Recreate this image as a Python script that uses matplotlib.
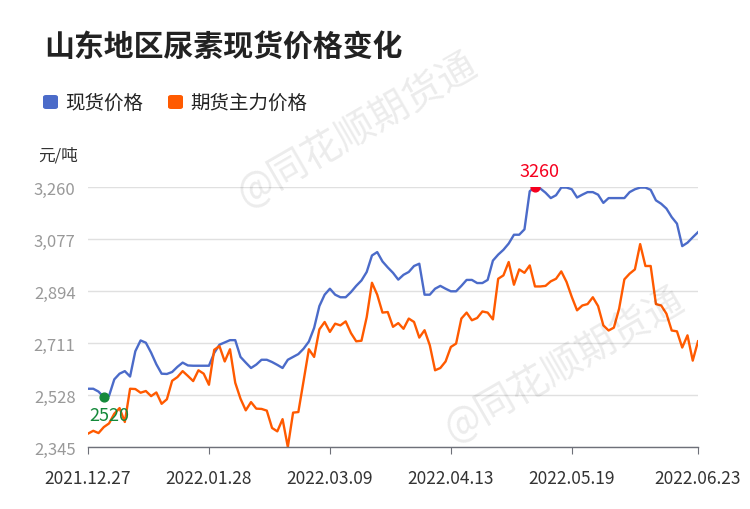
import matplotlib
matplotlib.use('Agg')
import matplotlib.pyplot as plt
import numpy as np
from matplotlib.patches import FancyBboxPatch

plt.rcParams['font.family'] = ['Noto Sans CJK SC', 'DejaVu Sans']

# 山东地区尿素现货价格 vs 期货主力价格 (元/吨)
tick_labels = ['2021.12.27', '2022.01.28', '2022.03.09', '2022.04.13', '2022.05.19', '2022.06.23']
tick_idx = [0, 23, 46, 69, 92, 116]

spot = [
    2550, 2550, 2540, 2520, 2525, 2583, 2603, 2612, 2593, 2682,
    2720, 2712, 2677, 2636, 2603, 2602, 2609, 2627, 2642, 2632,
    2631, 2631, 2631, 2631, 2676, 2705, 2713, 2721, 2721, 2662,
    2642, 2623, 2635, 2652, 2652, 2644, 2634, 2623, 2652, 2662,
    2672, 2691, 2716, 2764, 2841, 2881, 2902, 2881, 2872, 2872,
    2890, 2912, 2931, 2961, 3019, 3031, 2998, 2977, 2958, 2934,
    2951, 2961, 2982, 2990, 2881, 2881, 2902, 2912, 2902, 2893,
    2893, 2912, 2933, 2933, 2922, 2922, 2933, 3001, 3022, 3039,
    3061, 3092, 3092, 3111, 3245, 3260, 3255, 3240, 3221, 3231,
    3258, 3258, 3252, 3223, 3233, 3242, 3242, 3233, 3204, 3221,
    3221, 3221, 3221, 3242, 3252, 3258, 3258, 3250, 3213, 3201,
    3184, 3154, 3131, 3052, 3064, 3083, 3101,
]

futures = [
    2392, 2402, 2394, 2415, 2428, 2462, 2482, 2433, 2550, 2549,
    2536, 2542, 2524, 2537, 2497, 2513, 2578, 2591, 2612, 2595,
    2577, 2615, 2603, 2564, 2687, 2700, 2646, 2689, 2571, 2515,
    2474, 2503, 2480, 2479, 2473, 2412, 2400, 2443, 2345, 2466,
    2468, 2578, 2689, 2662, 2759, 2785, 2750, 2779, 2773, 2787,
    2746, 2717, 2719, 2802, 2923, 2881, 2818, 2820, 2768, 2781,
    2761, 2797, 2785, 2730, 2756, 2703, 2615, 2623, 2646, 2697,
    2709, 2797, 2818, 2791, 2799, 2822, 2818, 2794, 2937, 2949,
    2996, 2916, 2970, 2958, 2984, 2910, 2910, 2912, 2928, 2937,
    2963, 2926, 2873, 2826, 2843, 2848, 2872, 2841, 2773, 2755,
    2765, 2832, 2935, 2955, 2970, 3059, 2982, 2982, 2848, 2843,
    2814, 2755, 2752, 2695, 2738, 2649, 2717,
]

yticks = [2345, 2528, 2711, 2894, 3077, 3260]

blue = '#4b6bc9'
orange = '#ff5a00'

fig = plt.figure(figsize=(7.5, 5.1), dpi=100)
ax = fig.add_axes([88 / 750, 1 - 448 / 510, 610 / 750, 260 / 510])

x = np.arange(len(spot))
ax.plot(x, spot, color=blue, lw=1.7, zorder=3)
ax.plot(x, futures, color=orange, lw=1.7, zorder=3)

ax.set_xlim(0, len(spot) - 1)
ax.set_ylim(yticks[0], yticks[-1])
ax.set_yticks(yticks)
ax.set_yticklabels([f'{v:,}' for v in yticks])
ax.set_xticks(tick_idx)
ax.set_xticklabels(tick_labels)

for s in ['top', 'right', 'left']:
    ax.spines[s].set_visible(False)
ax.spines['bottom'].set_color('#6e7079')
ax.spines['bottom'].set_linewidth(1)
ax.spines['bottom'].set_zorder(4)
ax.grid(axis='y', color='#e0e0e0', lw=1)
ax.set_axisbelow(True)
ax.tick_params(axis='y', length=0, pad=9, labelsize=12, labelcolor='#999999')
ax.tick_params(axis='x', length=5, color='#6e7079', pad=11, labelsize=12.5, labelcolor='#333333')

# min / max markers
imin = int(np.argmin(spot))
imax = int(np.argmax(spot))
ax.scatter([imin], [spot[imin]], s=40, color='#14893a', zorder=5)
ax.annotate(str(spot[imin]), (imin, spot[imin]), xytext=(4, -6), textcoords='offset points',
            ha='center', va='top', color='#14893a', fontsize=13)
ax.scatter([imax], [spot[imax]], s=40, color='#f5001e', zorder=5)
ax.annotate(str(spot[imax]), (imax, spot[imax]), xytext=(3, 5), textcoords='offset points',
            ha='center', va='bottom', color='#f5001e', fontsize=13)

# title, legend, unit
fig.text(44 / 750, 1 - 47 / 510, '山东地区尿素现货价格变化', fontsize=21.5, fontweight='bold',
         color='#222222', va='center', ha='left')
for px, col, lab in [(43, blue, '现货价格'), (168, orange, '期货主力价格')]:
    fig.patches.append(FancyBboxPatch((px / 750, 1 - 110 / 510), 15 / 750, 14 / 510,
                                      boxstyle='round,pad=0,rounding_size=0.004',
                                      transform=fig.transFigure, facecolor=col, edgecolor='none'))
    fig.text((px + 22) / 750, 1 - 103 / 510, lab, fontsize=14, color='#222222', va='center', ha='left')
fig.text(38 / 750, 1 - 156 / 510, '元/吨', fontsize=12, color='#333333', va='center', ha='left')

# watermark
for cx, cy in [(358, 130), (565, 365)]:
    fig.text(cx / 750, 1 - cy / 510, '@同花顺期货通', fontsize=28, color='#000000', alpha=0.08,
             rotation=30, ha='center', va='center', zorder=10)

fig.savefig('out.png', dpi=100)
